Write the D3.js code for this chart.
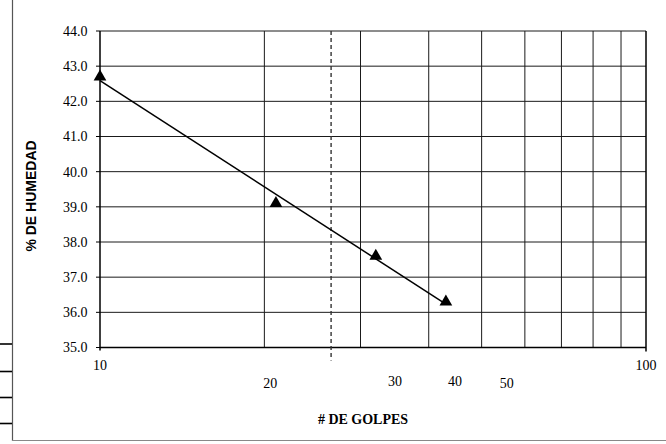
<!doctype html>
<html>
<head>
  <meta charset="utf8"/>
  <style>
    body { margin: 0; background: #fff; }
    .grid line { stroke: #1a1a1a; stroke-width: 1px; }
    .tick-label { font: 14px "Liberation Serif", "Times New Roman", serif; fill: #000; }
  </style>
</head>
<body>
  <svg width="666" height="444"></svg>
  <script src="https://d3js.org/d3.v7.min.js"></script>
  <script>
    // blows (log scale) and moisture %
    var golpes = [10, 21, 32, 43];
    var humedad = [42.7, 39.1, 37.6, 36.3];

    var yTicks = [35, 36, 37, 38, 39, 40, 41, 42, 43, 44];
    var xGrid = [20, 30, 40, 50, 60, 70, 80, 90];
    var xEndLabels = [10, 100];
    // loose labels under the axis, as placed in the original
    var xLooseLabels = ['20', '30', '40', '50'];
    var xLoosePos = [20.5, 34.7, 44.7, 55.6];
    var xLooseY = [38.8, 38.6, 38.6, 38.8];
    var dashedAt = 26.5;
    var stubRows = [344, 371.5, 397.5, 423.5];

    var svg = d3.select('svg');

    var x = d3.scaleLog().domain([10, 100]).range([100, 646]);
    var y = d3.scaleLinear().domain([35, 44]).range([347.5, 31]);

    // outer chart frame (partly cut)
    svg.append('line').attr('x1', 12.5).attr('x2', 12.5).attr('y1', 0).attr('y2', 441)
      .attr('stroke', '#555').attr('stroke-width', 1.2);
    svg.append('line').attr('x1', 12).attr('x2', 666).attr('y1', 440.5).attr('y2', 440.5)
      .attr('stroke', '#888').attr('stroke-width', 1.2);
    svg.selectAll('.stub').data(stubRows).enter().append('line')
      .attr('class', 'stub')
      .attr('x1', 0).attr('x2', 12)
      .attr('y1', function(d) { return d; }).attr('y2', function(d) { return d; })
      .attr('stroke', '#000').attr('stroke-width', 1.6);

    var g = svg.append('g').attr('class', 'grid');

    g.selectAll('.hgrid').data(yTicks).enter().append('line')
      .attr('x1', x(10)).attr('x2', x(100))
      .attr('y1', function(d) { return y(d); }).attr('y2', function(d) { return y(d); });

    g.selectAll('.vgrid').data(xGrid).enter().append('line')
      .attr('y1', y(35)).attr('y2', y(44))
      .attr('x1', function(d) { return x(d); }).attr('x2', function(d) { return x(d); });

    // plot borders and axes
    svg.append('line').attr('x1', x(100)).attr('x2', x(100)).attr('y1', y(44)).attr('y2', y(35) + 4)
      .attr('stroke', '#000').attr('stroke-width', 1.5);
    svg.append('line').attr('x1', x(10)).attr('x2', x(10)).attr('y1', y(44)).attr('y2', y(35) + 3)
      .attr('stroke', '#000').attr('stroke-width', 1.5);
    svg.append('line').attr('x1', x(10)).attr('x2', x(100)).attr('y1', y(35)).attr('y2', y(35))
      .attr('stroke', '#000').attr('stroke-width', 1.5);

    // y ticks + labels
    svg.selectAll('.ytick').data(yTicks).enter().append('line')
      .attr('x1', x(10) - 4).attr('x2', x(10))
      .attr('y1', function(d) { return y(d); }).attr('y2', function(d) { return y(d); })
      .attr('stroke', '#000');
    svg.selectAll('.ylab').data(yTicks).enter().append('text')
      .attr('class', 'tick-label')
      .attr('x', 87.5).attr('y', function(d) { return y(d); })
      .attr('dy', '0.35em').attr('text-anchor', 'end')
      .text(function(d) { return d3.format('.1f')(d); });

    // x end labels
    svg.selectAll('.xlab').data(xEndLabels).enter().append('text')
      .attr('class', 'tick-label')
      .attr('x', function(d) { return x(d); }).attr('y', 370)
      .attr('text-anchor', 'middle')
      .text(function(d) { return d; });

    svg.selectAll('.xloose').data(xLooseLabels).enter().append('text')
      .attr('class', 'tick-label')
      .attr('x', function(d, i) { return x(xLoosePos[i]); })
      .attr('y', function(d, i) { return 386 + (xLooseY[i] - 38.6) * 12; })
      .attr('text-anchor', 'middle')
      .text(function(d) { return d; });

    // dashed reference line
    svg.append('line')
      .attr('x1', x(dashedAt)).attr('x2', x(dashedAt))
      .attr('y1', y(44)).attr('y2', y(35) + 13)
      .attr('stroke', '#333').attr('stroke-width', 1.4)
      .attr('stroke-dasharray', '4,3');

    // logarithmic trendline fitted to the points
    var lx = golpes.map(function(d) { return Math.log10(d); });
    var mx = d3.mean(lx), my = d3.mean(humedad);
    var sxy = d3.sum(lx, function(d, i) { return (d - mx) * (humedad[i] - my); });
    var sxx = d3.sum(lx, function(d) { return (d - mx) * (d - mx); });
    var slope = sxy / sxx, icpt = my - slope * mx;
    var trendX = [d3.min(golpes), d3.max(golpes)];
    svg.append('path')
      .attr('d', d3.line()
        .x(function(d) { return x(d); })
        .y(function(d) { return y(icpt + slope * Math.log10(d)); })(trendX))
      .attr('fill', 'none').attr('stroke', '#000').attr('stroke-width', 1.5);

    // triangle markers
    svg.selectAll('.pt').data(golpes).enter().append('path')
      .attr('d', d3.symbol().type(d3.symbolTriangle).size(70))
      .attr('transform', function(d, i) {
        return 'translate(' + x(d) + ',' + y(humedad[i]) + ')';
      })
      .attr('fill', '#000');

    // axis titles
    svg.append('text')
      .attr('transform', 'translate(36,196) rotate(-90)')
      .attr('text-anchor', 'middle')
      .style('font', 'bold 14px "Liberation Sans", Arial, sans-serif')
      .text('% DE HUMEDAD');

    svg.append('text')
      .attr('x', 363).attr('y', 424)
      .attr('text-anchor', 'middle')
      .style('font', 'bold 14px "Liberation Serif", "Times New Roman", serif')
      .text('# DE GOLPES');
  </script>
</body>
</html>
